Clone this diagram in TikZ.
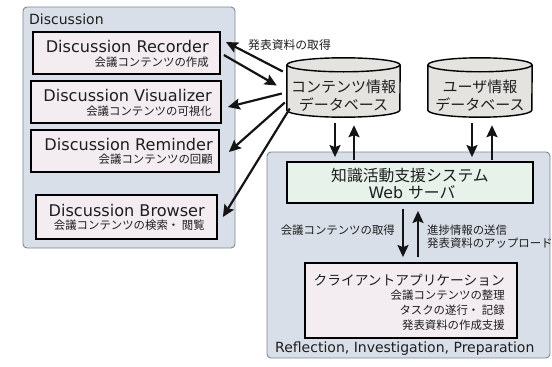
\documentclass[tikz,border=0pt]{standalone}
\usepackage{fontspec}
\setmainfont{DejaVu Sans}
\newfontfamily\jp{Noto Sans CJK JP}
\usetikzlibrary{calc,arrows.meta}
\definecolor{panelc}{HTML}{D9DFE8}
\definecolor{panelb}{HTML}{7E8796}
\definecolor{boxc}{HTML}{F3EDF1}
\definecolor{srvc}{HTML}{E7F2EB}
\definecolor{cylc}{HTML}{E4E3DF}
\definecolor{txt}{HTML}{1E1E1E}
\definecolor{arrc}{HTML}{141414}
\tikzset{
  panel/.style={fill=panelc, draw=panelb, line width=0.9pt, rounded corners=4pt},
  dbox/.style={draw=black, line width=1.8pt, fill=boxc, inner sep=0pt},
  srvbox/.style={draw=black, line width=1.8pt, fill=srvc, inner sep=0pt},
  ttl/.style={font=\fontsize{16.1}{18}\selectfont, text=txt, inner sep=0pt, anchor=base east},
  subt/.style={font=\jp\fontsize{11.4}{13}\selectfont, text=txt, inner sep=0pt, anchor=base east},
  lbl/.style={font=\fontsize{14}{16}\selectfont, text=txt, inner sep=0pt, anchor=base west},
  cyltxt/.style={font=\jp\fontsize{15}{17}\selectfont, text=txt, inner sep=0pt, anchor=base},
  arr/.style={draw=arrc, line width=2.2pt, -{Stealth[length=12pt,width=11pt,inset=2pt]}},
  cylline/.style={draw=black, line width=1.4pt, fill=cylc},
  spot/.style={inner sep=0pt, minimum size=0pt},
}
\newcommand\mycyl[2]{%
  \path[cylline] ($(#1.north west)+(0,7)$) -- ($(#1.south west)+(0,-7)$)
     arc[start angle=180,end angle=0,x radius=#2,y radius=7]
     -- ($(#1.north east)+(0,7)$);
  \path[cylline] ($(#1.north)+(0,7)$) ellipse [x radius=#2, y radius=7];
}
\begin{document}
\begin{tikzpicture}[x=1pt,y=-1pt]
\useasboundingbox (0,0) rectangle (552,367);
% panels
\path[panel] (23,7) rectangle (235,248);
\path[panel] (267,152) rectangle (550,358);
\node[lbl] (discl) at (29,24) {Discussion};
\node[lbl] (refl) at (275,352) {Reflection, Investigation, Preparation};

% discussion boxes
\node[dbox, minimum width=187, minimum height=42] (rec) at (126.5,53) {};
\node[ttl] (rect) at ($(rec.east)+(-12,-0.5)$) {Discussion Recorder};
\node[subt] (recs) at ($(rec.east)+(-12,13)$) {会議コンテンツの作成};

\node[dbox, minimum width=190, minimum height=42] (vis) at (126,102) {};
\node[ttl] (vist) at ($(vis.east)+(-10,-0.5)$) {Discussion Visualizer};
\node[subt] (viss) at ($(vis.east)+(-10,13)$) {会議コンテンツの可視化};

\node[dbox, minimum width=188, minimum height=42] (rem) at (125,151) {};
\node[ttl] (remt) at ($(rem.east)+(-7,-1)$) {Discussion Reminder};
\node[subt] (rems) at ($(rem.east)+(-7,12.5)$) {会議コンテンツの回顧};

\node[dbox, minimum width=181, minimum height=44] (bro) at (126.5,217) {};
\node[ttl] (brot) at ($(bro.east)+(-13,-1)$) {Discussion Browser};
\node[subt] (bros) at ($(bro.east)+(-13,12.5)$) {会議コンテンツの検索・ 閲覧};

% databases
\node[spot, minimum width=113, minimum height=59] (cdb) at (343.5,87.5) {};
\mycyl{cdb}{56.5}
\node[cyltxt] (cdb1) at ($(cdb.center)+(0,5)$) {コンテンツ情報};
\node[cyltxt] (cdb2) at ($(cdb.center)+(0,22.5)$) {データベース};

\node[spot, minimum width=104, minimum height=59] (udb) at (480,87.5) {};
\mycyl{udb}{52}
\node[cyltxt] (udb1) at ($(udb.center)+(0,5)$) {ユーザ情報};
\node[cyltxt] (udb2) at ($(udb.center)+(0,22.5)$) {データベース};

% server
\node[srvbox, minimum width=246, minimum height=41] (srv) at (410,182.5) {};
\node[font=\jp\fontsize{15.8}{18}\selectfont, text=txt, inner sep=0pt, anchor=base] (srv1) at (410,181.5) {知識活動支援システム};
\node[font=\fontsize{15.8}{18}\selectfont, text=txt, inner sep=0pt, anchor=base] (srv2) at (412,198) {Web {\jp サーバ}};

% client
\node[dbox, minimum width=212, minimum height=75] (cli) at (411,300.5) {};
\node[font=\jp\fontsize{13.7}{16}\selectfont, text=txt, inner sep=0pt, anchor=base east] (cli1) at ($(cli.east)+(-13,-15)$) {クライアントアプリケーション};
\node[subt] (cli2) at ($(cli.east)+(-13,-1.5)$) {会議コンテンツの整理};
\node[subt] (cli3) at ($(cli.east)+(-13,13.5)$) {タスクの遂行・ 記録};
\node[subt] (cli4) at ($(cli.east)+(-13,28.5)$) {発表資料の作成支援};

% labels
\node[font=\jp\fontsize{11.8}{13}\selectfont, text=txt, inner sep=0pt, anchor=west] (lget) at (248,45) {発表資料の取得};
\node[font=\jp\fontsize{11.4}{13}\selectfont, text=txt, inner sep=0pt, anchor=east] (lcont) at (395,230) {会議コンテンツの取得};
\node[font=\jp\fontsize{11.4}{13}\selectfont, text=txt, inner sep=0pt, anchor=west] (lsend) at (427,230) {進捗情報の送信};
\node[font=\jp\fontsize{11.4}{13}\selectfont, text=txt, inner sep=0pt, anchor=west] (lup) at (427,243) {発表資料のアップロード};

% arrows between DB and discussion boxes
\draw[arr] ($(cdb.west)+(-4,-16)$) -- ($(rec.east)+(5,-11)$);
\draw[arr] ($(rec.east)+(3,2)$) -- ($(cdb.west)+(-10,-2)$);
\draw[arr] ($(cdb.west)+(-5,6)$) -- ($(vis.east)+(6,5)$);
\draw[arr] ($(cdb.west)+(-2,15)$) -- ($(rem.east)+(9,1)$);
\draw[arr] ($(cdb.west)+(3,21)$) -- ($(bro.east)+(5,0)$);

% DB <-> server
\draw[arr] ($(cdb.south)+(-8.5,6)$) -- ($(srv.north)+(-75,-4)$);
\draw[arr] ($(srv.north)+(-56,-1)$) -- ($(cdb.south)+(10.5,8)$);
\draw[arr] ($(udb.south)+(-8,6)$) -- ($(srv.north)+(62,-4)$);
\draw[arr] ($(srv.north)+(82,-1)$) -- ($(udb.south)+(12,8)$);

% server <-> client
\draw[arr] ($(srv.south)+(-7,5)$) -- ($(cli.north)+(-8,-5)$);
\draw[arr] ($(cli.north)+(7,-5)$) -- ($(srv.south)+(8,7)$);
\end{tikzpicture}
\end{document}
